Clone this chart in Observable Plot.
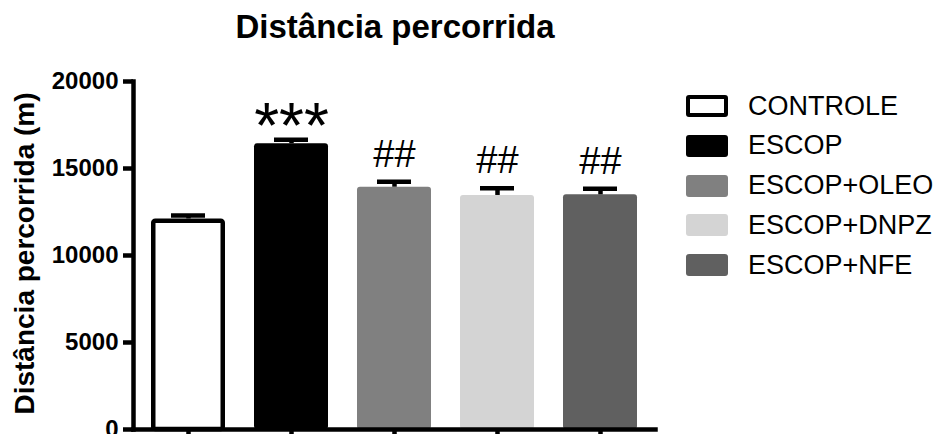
<!DOCTYPE html>
<html>
<head>
<meta charset="utf-8">
<script src="https://cdn.jsdelivr.net/npm/d3@7"></script>
<script src="https://cdn.jsdelivr.net/npm/@observablehq/plot@0.6"></script>
<style>
  html, body { margin: 0; padding: 0; background: #fff; }
  #wrap { position: relative; width: 939px; height: 434px; overflow: hidden; font-family: "Liberation Sans", Arial, sans-serif; color: #000; }
  #title { position: absolute; left: 0; top: 10px; width: 790px; text-align: center; font-size: 33px; line-height: 33px; font-weight: bold; }
  #chart { position: absolute; left: 0; top: 0; }
  #legend { position: absolute; left: 686px; top: 0; }
  .row { position: absolute; left: 0; height: 22px; display: flex; align-items: center; white-space: nowrap; }
  .sw { width: 42px; height: 22px; border-radius: 3px; box-sizing: border-box; margin-right: 20px; }
  .lab { font-size: 27px; line-height: 27px; }
  #chart [aria-label="y-axis tick label"] text { font-weight: bold; }
</style>
</head>
<body>
<div id="wrap">
  <div id="chart"></div>
  <div id="title">Distância percorrida</div>
  <div id="legend"></div>
</div>
<script>
// Groups, mean distance (m), SEM and significance marks
const groups = ["CONTROLE", "ESCOP", "ESCOP+OLEO", "ESCOP+DNPZ", "ESCOP+NFE"];
const means = [12100, 16420, 13925, 13450, 13490];
const sems = [200, 230, 320, 420, 345];
const signif = ["", "***", "##", "##", "##"];
const fills = ["#ffffff", "#000000", "#808080", "#d4d4d4", "#606060"];
const yTicks = [0, 5000, 10000, 15000, 20000];
const yLabel = "Distância percorrida (m)";

const data = groups.map((g, i) => ({group: g, mean: means[i], sem: sems[i], mark: signif[i]}));
const errTop = d => d.mean + d.sem;
const font = "Liberation Sans, Arial, sans-serif";

const chart = Plot.plot({
  width: 939,
  height: 434,
  marginTop: 81,
  marginBottom: 5,
  marginLeft: 133,
  marginRight: 284,
  style: {fontFamily: font, background: "#fff", color: "#000", overflow: "visible"},
  x: {domain: groups, paddingInner: 0.285, paddingOuter: 0.16},
  y: {domain: [0, 20000]},
  color: {domain: groups, range: fills},
  marks: [
    // open control bar, outlined inside its band
    Plot.barY(data.filter(d => d.group === "CONTROLE"), {
      x: "group", y: "mean", fill: "group", stroke: "#000", strokeWidth: 4.5,
      insetLeft: 2.25, insetRight: 2.25, insetTop: 2.25, insetBottom: 0, rx: 2
    }),
    Plot.barY(data.filter(d => d.group !== "CONTROLE"), {
      x: "group", y: "mean", fill: "group", rx: 3
    }),
    // upward SEM whiskers with caps
    Plot.ruleX(data, {x: "group", y1: "mean", y2: errTop, stroke: "#000", strokeWidth: 4.5}),
    Plot.tickY(data, {x: "group", y: errTop, stroke: "#000", strokeWidth: 4.5, insetLeft: 20, insetRight: 20}),
    // significance marks
    Plot.text(data.filter(d => d.mark === "***"), {
      x: "group", y: errTop, text: "mark", lineAnchor: "bottom", dy: 8, fontSize: 64, fontFamily: font
    }),
    Plot.text(data.filter(d => d.mark === "##"), {
      x: "group", y: errTop, text: "mark", lineAnchor: "bottom", dy: -15, fontSize: 38, fontFamily: font
    }),
    // axes
    Plot.frame({anchor: "left", strokeWidth: 4.5, strokeLinecap: "square"}),
    Plot.frame({anchor: "bottom", strokeWidth: 4.5, strokeLinecap: "square"}),
    Plot.axisY({ticks: yTicks, tickFormat: d => String(d), tickSize: 10, tickPadding: 5, strokeWidth: 4.5,
      fontSize: 24, fontWeight: "bold", label: null}),
    Plot.axisX({tickSize: 10, strokeWidth: 4.5, tickFormat: () => "", label: null}),
    Plot.text([yLabel], {frameAnchor: "left", textAnchor: "middle", lineAnchor: "middle", rotate: -90,
      dx: -108, dy: -2, fontSize: 28, fontWeight: "bold", fontFamily: font})
  ]
});
document.getElementById("chart").appendChild(chart);

// legend
const legend = document.getElementById("legend");
groups.forEach((g, i) => {
  const row = document.createElement("div");
  row.className = "row";
  row.style.top = (95 + i * 39.75) + "px";
  const sw = document.createElement("div");
  sw.className = "sw";
  sw.style.background = fills[i];
  if (g === "CONTROLE") sw.style.border = "4.5px solid #000";
  const lab = document.createElement("span");
  lab.className = "lab";
  lab.textContent = g;
  row.appendChild(sw);
  row.appendChild(lab);
  legend.appendChild(row);
});
</script>
</body>
</html>
